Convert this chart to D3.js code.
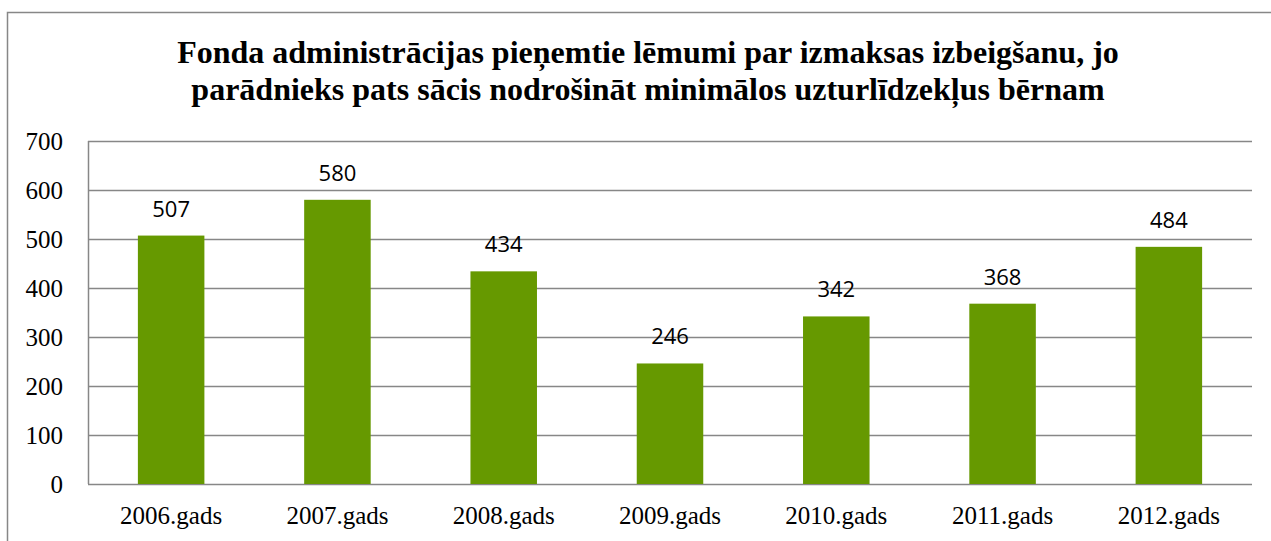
<!DOCTYPE html>
<html>
<head>
<meta charset="utf-8">
<script src="https://cdn.jsdelivr.net/npm/d3@7"></script>
<style>
  body { margin: 0; background: #fff; }
  svg { display: block; }
</style>
</head>
<body>
<div id="plot-container"></div>
<script>
// chart data
var categories = ['2006.gads', '2007.gads', '2008.gads', '2009.gads', '2010.gads', '2011.gads', '2012.gads'];
var values = [507, 580, 434, 246, 342, 368, 484];
var yTicks = [0, 100, 200, 300, 400, 500, 600, 700];
var titleLines = [
  'Fonda administrācijas pieņemtie lēmumi par izmaksas izbeigšanu, jo',
  'parādnieks pats sācis nodrošināt minimālos uzturlīdzekļus bērnam'
];

var width = 1271, height = 541;
var plotLeft = 88, plotRight = 1252, plotTop = 141, plotBottom = 484;
var barColor = '#669900';
var gridColor = '#878787';
var serif = '"Liberation Serif", "Times New Roman", serif';

var svg = d3.select('#plot-container')
            .append('svg')
            .attr('width', width)
            .attr('height', height);

// outer frame
svg.append('rect')
   .attr('x', 7.5).attr('y', 12.5)
   .attr('width', 1280).attr('height', 600)
   .attr('fill', 'none')
   .attr('stroke', gridColor)
   .attr('stroke-width', 1.5);

// title
svg.append('g')
   .selectAll('text')
   .data(titleLines)
   .enter()
   .append('text')
   .attr('x', 648)
   .attr('y', function(d, i){ return 63 + i * 37; })
   .attr('text-anchor', 'middle')
   .style('font-family', serif)
   .style('font-weight', 'bold')
   .style('font-size', '32px')
   .text(function(d){ return d; });

var xScale = d3.scaleBand()
               .domain(categories)
               .range([plotLeft, plotRight])
               .padding(0);

var yScale = d3.scaleLinear()
               .domain([0, 700])
               .range([plotBottom, plotTop]);

// gridlines
svg.append('g')
   .selectAll('line')
   .data(yTicks)
   .enter()
   .append('line')
   .attr('x1', plotLeft).attr('x2', plotRight)
   .attr('y1', function(d){ return Math.round(yScale(d)) + 0.5; })
   .attr('y2', function(d){ return Math.round(yScale(d)) + 0.5; })
   .attr('stroke', gridColor)
   .attr('stroke-width', 1.5);

// left axis line
svg.append('line')
   .attr('x1', plotLeft + 0.5).attr('x2', plotLeft + 0.5)
   .attr('y1', yScale(700)).attr('y2', yScale(0))
   .attr('stroke', gridColor)
   .attr('stroke-width', 1.5);

// y axis labels
var yAxis = svg.append('g')
   .attr('transform', 'translate(' + (plotLeft - 25) + ',0)')
   .call(d3.axisLeft(yScale).tickValues(yTicks).tickSize(0).tickPadding(0));
yAxis.select('.domain').remove();
yAxis.selectAll('text')
     .attr('fill', '#000')
     .attr('dy', '0.34em')
     .style('font-family', serif)
     .style('font-size', '25px');

// x axis labels
var xAxis = svg.append('g')
   .attr('transform', 'translate(0,' + plotBottom + ')')
   .call(d3.axisBottom(xScale).tickSize(0).tickPadding(0));
xAxis.select('.domain').remove();
xAxis.selectAll('text')
     .attr('fill', '#000')
     .attr('dy', null)
     .attr('y', 40)
     .style('font-family', serif)
     .style('font-size', '25px');

var barWidth = xScale.bandwidth() * 0.4;

// bars
svg.selectAll('rect.bar')
   .data(values)
   .enter()
   .append('rect')
   .attr('class', 'bar')
   .attr('x', function(d, i){ return xScale(categories[i]) + (xScale.bandwidth() - barWidth) / 2; })
   .attr('y', function(d){ return yScale(d); })
   .attr('width', barWidth)
   .attr('height', function(d){ return yScale(0) - yScale(d); })
   .attr('fill', barColor);

// value labels
svg.selectAll('text.val')
   .data(values)
   .enter()
   .append('text')
   .attr('class', 'val')
   .attr('x', function(d, i){ return xScale(categories[i]) + xScale.bandwidth() / 2; })
   .attr('y', function(d){ return yScale(d) - 19; })
   .attr('text-anchor', 'middle')
   .style('font-family', '"Open Sans", "Noto Sans", sans-serif')
   .style('font-size', '22px')
   .text(function(d){ return d; });
</script>
</body>
</html>
